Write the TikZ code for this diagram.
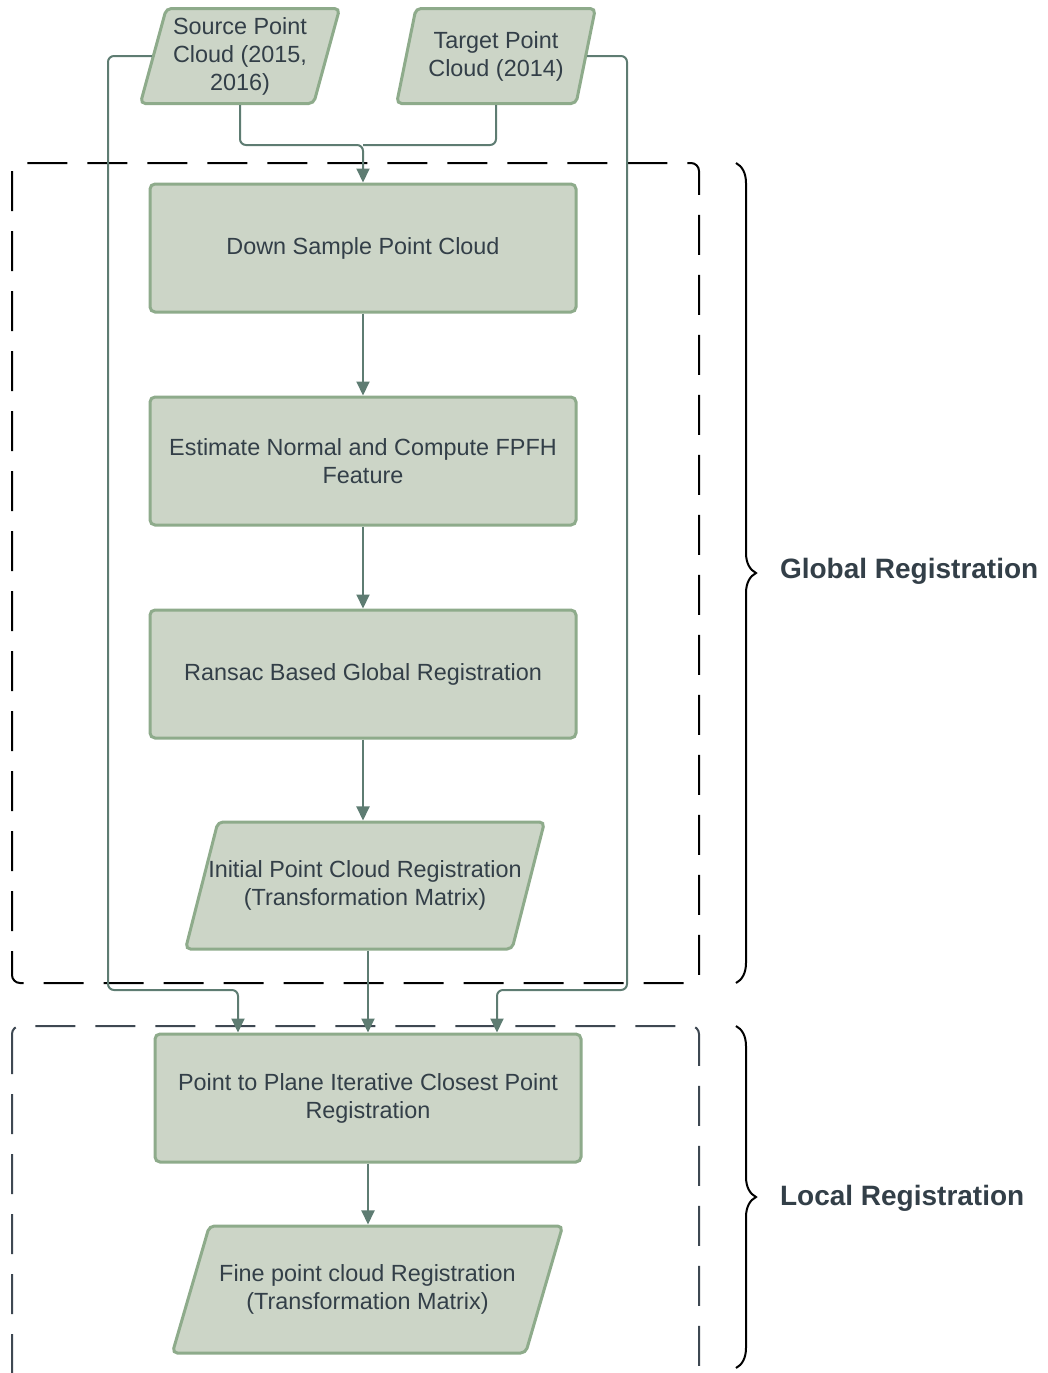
\documentclass[tikz,border=0pt]{standalone}
\usepackage{fontspec}
\setmainfont{Liberation Sans}
\usetikzlibrary{shapes.geometric, arrows.meta, positioning, calc, decorations.pathreplacing}
\definecolor{SageFill}{HTML}{CCD5C7}
\definecolor{SageEdge}{HTML}{8EAB8B}
\definecolor{SageLine}{HTML}{5E7C72}
\definecolor{SlateText}{HTML}{333F48}
\definecolor{SlateDash}{HTML}{3E4852}

\begin{document}
\begin{tikzpicture}[x=0.5pt, y=-0.5pt, >={Triangle[length=7pt, width=6.5pt]}, node distance=41pt,
        box/.style={rectangle, draw=SageEdge, line width=1.5pt, fill=SageFill, rounded corners=2.5pt, minimum width=213pt, minimum height=64pt, align=center, text=SlateText, font=\fontsize{11.7}{14}\selectfont},
        io/.style={box, trapezium, trapezium left angle=63.2, trapezium right angle=116.8, trapezium stretches=true, inner xsep=-6pt, minimum height=63.5pt},
        pcloud/.style={io, trapezium left angle=78, trapezium right angle=102, minimum width=100pt, minimum height=47.5pt},
        link/.style={SageLine, line width=1pt, rounded corners=3pt},
        arrow/.style={link, ->},
        stage/.style={line width=1pt, dash pattern=on 20pt off 10pt, rounded corners=4pt},
        stagebrace/.style={line width=1pt, decorate, decoration={brace, amplitude=10pt}},
        stagelabel/.style={anchor=west, text=SlateText, font=\fontsize{14}{16}\selectfont\bfseries}]

        \clip (0,0) rectangle (1048,1373);

        % stage frames
        \draw[stage] (12,163) rectangle (699,983);
        \draw[stage, SlateDash] (12,1026) rectangle (699,1400);

        \node[pcloud] (src) at (240,56) {Source Point\\Cloud (2015,\\2016)};
        \node[pcloud] (tgt) at (496,56) {Target Point\\Cloud (2014)};
        \node[box] (down) at (363,248) {Down Sample Point Cloud};
        \node[box, below=of down] (fpfh) {Estimate Normal and Compute FPFH\\Feature};
        \node[box, below=of fpfh] (ransac) {Ransac Based Global Registration};
        \node[io, minimum width=180pt] (init) at (365,885.5) {Initial Point Cloud Registration\\(Transformation Matrix)};
        \node[box] (icp) at (368,1098) {Point to Plane Iterative Closest Point\\Registration};
        \node[io, minimum width=195.5pt] (fine) at (367.5,1289.5) {Fine point cloud Registration\\(Transformation Matrix)};

        \coordinate (merge) at (363,145);
        \coordinate (leftturn) at (108,990);
        \coordinate (rightturn) at (627,990);

        \draw[arrow] (src) |- (merge) -- (down);
        \draw[link] (tgt) |- (merge);
        \draw[arrow] (down) -- (fpfh);
        \draw[arrow] (fpfh) -- (ransac);
        \draw[arrow] (ransac) -- (ransac |- init.north);
        \draw[arrow] (icp |- init.south) -- (icp);
        \draw[arrow] (src.west) -| (leftturn) -| ([xshift=-65pt]icp.north);
        \draw[arrow] (tgt.east) -| (rightturn) -| ([xshift=64.5pt]icp.north);
        \draw[arrow] (icp) -- (icp |- fine.north);

        % stage braces
        \draw[stagebrace] (736,163) -- (736,983);
        \node[stagelabel] (glabel) at (773,571) {Global Registration};
        \draw[stagebrace] (736,1026) -- (736,1368);
        \node[stagelabel] (llabel) at (773,1198) {Local Registration};
\end{tikzpicture}
\end{document}
